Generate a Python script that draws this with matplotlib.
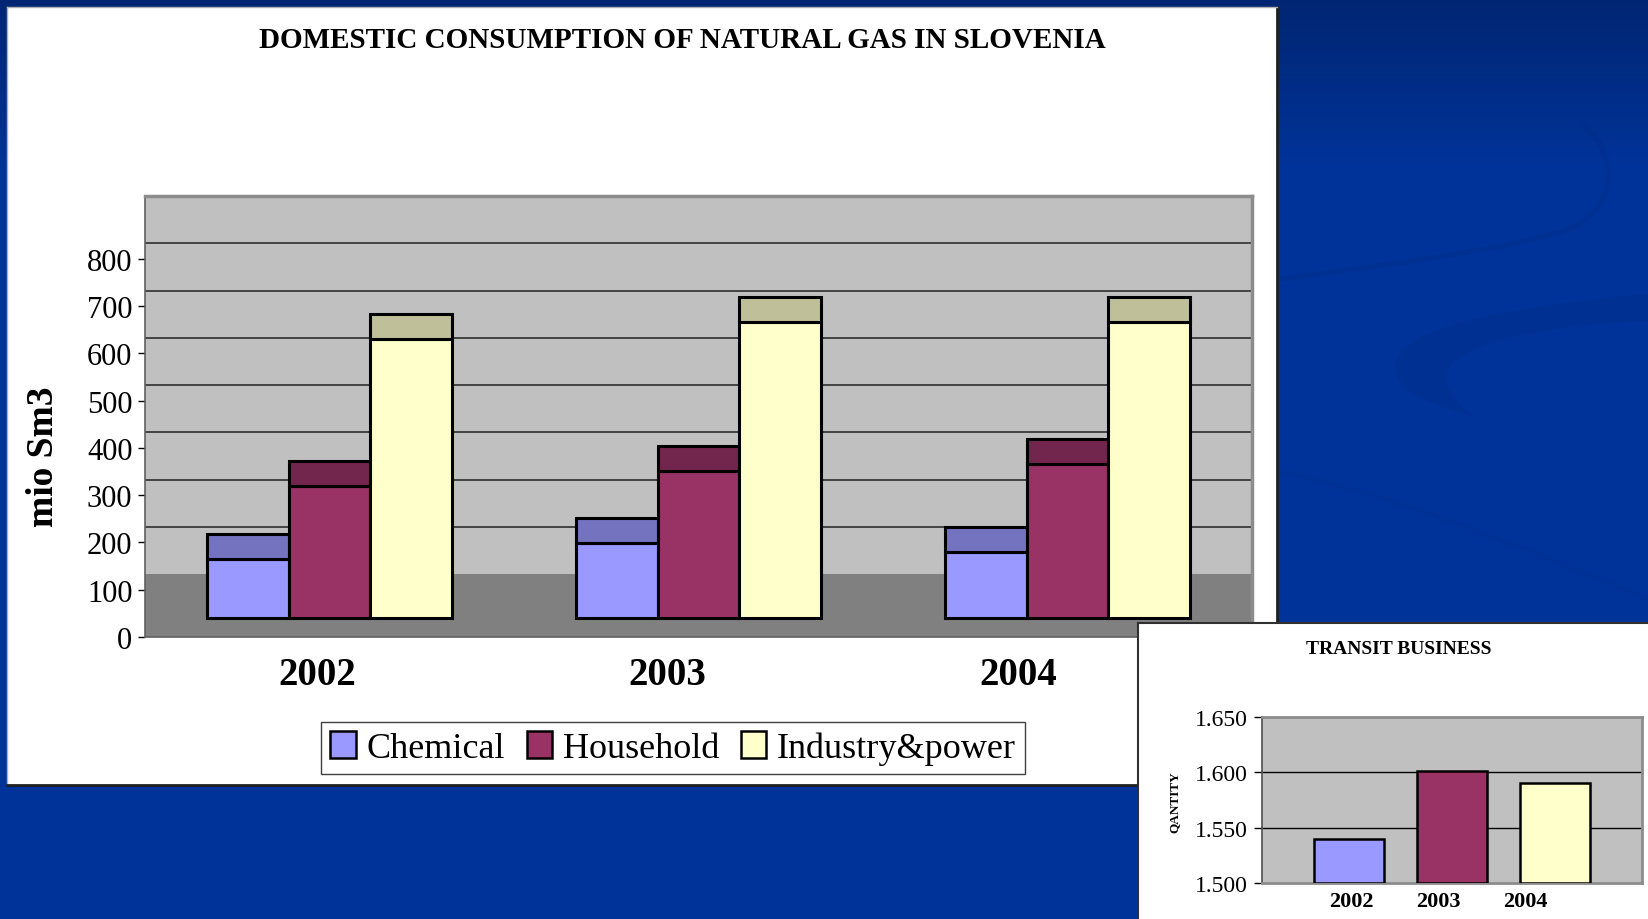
import numpy as np
import matplotlib.pyplot as plt
from matplotlib.patches import Patch, PathPatch
from matplotlib.path import Path

# ==========================================
# DATA
# ==========================================

years = ["2002", "2003", "2004"]
series_names = ["Chemical", "Household", "Industry&power"]
chemical = [125, 159, 139]
household = [279, 312, 326]
industry = [591, 626, 626]
y_ticks = [0, 100, 200, 300, 400, 500, 600, 700, 800]

transit_years = ["2002", "2003", "2004"]
transit = [1.540, 1.601, 1.590]
transit_ticks = [1.500, 1.550, 1.600, 1.650]

front_colors = ["#9999FF", "#993366", "#FFFFCC"]
top_colors = ["#7373BF", "#73264D", "#BFBF99"]

# fake 3D geometry (in front-axis units)
BASE = 40      # bar base sits a bit behind the front edge of the floor
DEPTH = 53     # visible top face of each column
FLOOR = 133    # back wall zero line
BAR_W = 0.222

plt.rcParams['font.family'] = ['Liberation Serif', 'DejaVu Serif']

W, H = 1648, 920
fig = plt.figure(figsize=(W / 100, H / 100), dpi=100)


def box(x0, y0, x1, y1):
    # pixel box (top-left origin) -> figure fraction rect
    return [x0 / W, 1 - y1 / H, (x1 - x0) / W, (y1 - y0) / H]


# ==========================================
# SLIDE BACKGROUND
# ==========================================

bg = fig.add_axes([0, 0, 1, 1], zorder=-2)
grad = np.linspace(0, 1, 200)
top_c = np.array([0, 38, 115]) / 255
mid_c = np.array([0, 51, 153]) / 255
mix = np.clip(grad / 0.18, 0, 1)[:, None]
img = top_c * (1 - mix) + mid_c * mix
bg.imshow(img[:, None, :], aspect='auto', extent=[0, W, H, 0])

swoosh_c = "#002d88"
M, C, Z = Path.MOVETO, Path.CURVE4, Path.CLOSEPOLY
crescent = Path(
    [(1648, 295), (1500, 308), (1400, 330), (1395, 365),
     (1392, 392), (1430, 405), (1475, 418),
     (1450, 400), (1440, 382), (1452, 365),
     (1475, 340), (1560, 326), (1648, 322), (1648, 295)],
    [M, C, C, C, C, C, C, C, C, C, C, C, C, Z])
bg.add_patch(PathPatch(crescent, facecolor=swoosh_c, edgecolor="none", alpha=0.45))
arc = Path([(1583, 125), (1622, 160), (1618, 215), (1560, 233),
            (1480, 256), (1350, 270), (1230, 287)],
           [M, C, C, C, C, C, C])
bg.add_patch(PathPatch(arc, facecolor="none", edgecolor=swoosh_c, lw=4, alpha=0.4))
arc2 = Path([(1240, 465), (1330, 480), (1420, 505), (1648, 600)], [M, C, C, C])
bg.add_patch(PathPatch(arc2, facecolor="none", edgecolor=swoosh_c, lw=4, alpha=0.25))
bg.set_xlim(0, W)
bg.set_ylim(H, 0)
bg.axis("off")

# white slide panel for the main chart
panel = fig.add_axes(box(7, 8, 1277, 786), zorder=-1)
panel.set_facecolor("white")
panel.set_xticks([])
panel.set_yticks([])
for s in ["left", "top"]:
    panel.spines[s].set_color("#b0b0b0")
    panel.spines[s].set_linewidth(1)
for s in ["right", "bottom"]:
    panel.spines[s].set_color("#202020")
    panel.spines[s].set_linewidth(2)

# ==========================================
# MAIN CHART
# ==========================================

ax = fig.add_axes(box(145, 197, 1252, 638), zorder=1)
ax.set_facecolor("#C0C0C0")
ax.set_xlim(-0.5, 2.5)
ax.set_ylim(0, FLOOR + 800)

ax.axhspan(0, FLOOR, color="#808080", zorder=0.5, lw=0)
for v in y_ticks[1:-1]:
    ax.axhline(FLOOR + v, color="#222222", lw=1.1, zorder=1)

x = np.arange(len(years))
all_series = [chemical, household, industry]
for i, vals in enumerate(all_series):
    xpos = x + (i - 1) * BAR_W
    ax.bar(xpos, vals, BAR_W, bottom=BASE, color=front_colors[i],
           edgecolor="black", linewidth=2.2, zorder=3)
    ax.bar(xpos, DEPTH, BAR_W, bottom=BASE + np.array(vals), color=top_colors[i],
           edgecolor="black", linewidth=2.2, zorder=3)

ax.set_yticks(y_ticks)
ax.set_yticklabels([str(v) for v in y_ticks])
ax.tick_params(axis="y", direction="out", length=5, width=1, labelsize=22, pad=4)

# year labels shifted for the perspective view
label_pos = x * 0.95 - 0.034
ax.set_xticks(label_pos)
ax.set_xticklabels(years, fontsize=28, fontweight="bold")
ax.tick_params(axis="x", length=0, pad=14)

ax.set_ylabel("mio Sm3", fontsize=27, fontweight="bold")
ax.yaxis.set_label_coords(-0.076, 0.41)

for s in ["top", "right"]:
    ax.spines[s].set_color("#8c8c8c")
    ax.spines[s].set_linewidth(2.5)
ax.spines["left"].set_color("#606060")
ax.spines["left"].set_linewidth(1.2)
ax.spines["bottom"].set_color("#606060")
ax.spines["bottom"].set_linewidth(1.2)

fig.text(682 / W, 1 - 40 / H, "DOMESTIC CONSUMPTION OF NATURAL GAS IN SLOVENIA",
         ha="center", va="center", fontsize=21, fontweight="bold")

handles = [Patch(facecolor=c, edgecolor="black", linewidth=1.8) for c in front_colors]
leg = fig.legend(handles, series_names, loc="center",
                 bbox_to_anchor=(673 / W, 1 - 749 / H), ncol=3, fontsize=26,
                 frameon=True, fancybox=False, framealpha=1, edgecolor="#404040",
                 handlelength=0.7, handleheight=0.8, handletextpad=0.3,
                 columnspacing=0.6, borderpad=0.25)
leg.get_frame().set_linewidth(1)

# ==========================================
# TRANSIT BUSINESS INSET
# ==========================================

ipanel = fig.add_axes(box(1138, 624, 1652, 924), zorder=2)
ipanel.set_facecolor("white")
ipanel.set_xticks([])
ipanel.set_yticks([])
for s in ["left", "top"]:
    ipanel.spines[s].set_color("#303030")
    ipanel.spines[s].set_linewidth(1.5)

ax2 = fig.add_axes(box(1262, 718, 1642, 884), zorder=3)
ax2.set_facecolor("#C0C0C0")
tx = np.arange(len(transit_years))
ax2.set_xlim(-0.845, 2.845)
ax2.set_ylim(transit_ticks[0], transit_ticks[-1])
for v in transit_ticks[1:-1]:
    ax2.axhline(v, color="black", lw=1, zorder=1)
ax2.bar(tx, np.array(transit) - transit_ticks[0], 0.68, bottom=transit_ticks[0],
        color=front_colors, edgecolor="black", linewidth=1.8, zorder=3)
ax2.set_yticks(transit_ticks)
ax2.set_yticklabels(["%.3f" % v for v in transit_ticks])
ax2.tick_params(axis="y", direction="out", length=6, width=1, labelsize=17, pad=4)
ax2.set_xticks(tx * 0.845 + 0.02)
ax2.set_xticklabels(transit_years, fontsize=16, fontweight="bold")
ax2.tick_params(axis="x", length=0, pad=6)
for s in ["top", "right", "bottom"]:
    ax2.spines[s].set_color("#8c8c8c")
    ax2.spines[s].set_linewidth(2)
ax2.spines["left"].set_color("#505050")
ax2.spines["left"].set_linewidth(1.2)
ax2.set_ylabel("QANTITY", fontsize=9.5, fontweight="bold")
ax2.yaxis.set_label_coords(-0.215, 0.494)

fig.text(1399 / W, 1 - 650 / H, "TRANSIT BUSINESS", ha="center", va="center",
         fontsize=14, fontweight="bold", zorder=5)

plt.savefig("out.png", dpi=100)
